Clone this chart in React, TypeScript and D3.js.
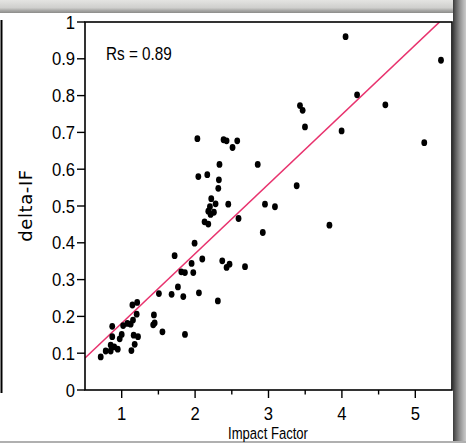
import React from "react";
import * as d3 from "d3";

// Data
const impactFactor = [
  0.714, 0.782, 0.85, 0.85, 0.898, 0.946, 0.871, 0.871, 0.973, 1.0,
  1.02, 1.078, 1.122, 1.154, 1.146, 1.211, 1.204, 1.163, 1.222, 1.177,
  1.132, 1.439, 1.429, 1.449, 1.555, 1.862, 1.507, 1.68, 1.766, 1.839,
  2.052, 2.31, 1.721, 1.993, 2.098, 1.952, 1.812, 1.861, 1.975, 2.37,
  2.429, 2.469, 2.68, 2.922, 2.129, 2.18, 2.592, 2.22, 2.279, 2.452,
  2.202, 2.18, 2.211, 2.256, 2.952, 3.088, 3.384, 2.044, 2.166, 2.324,
  2.316, 2.332, 2.853, 2.031, 2.388, 2.429, 2.574, 2.51, 3.83, 3.429,
  3.465, 3.497, 3.996, 4.05, 4.207, 4.592, 5.122, 5.35,
];
const deltaIF = [
  0.09, 0.106, 0.106, 0.122, 0.117, 0.111, 0.173, 0.145, 0.139, 0.151,
  0.175, 0.181, 0.179, 0.19, 0.231, 0.238, 0.206, 0.149, 0.145, 0.124,
  0.107, 0.204, 0.177, 0.182, 0.158, 0.151, 0.262, 0.26, 0.28, 0.254,
  0.264, 0.242, 0.365, 0.399, 0.356, 0.344, 0.321, 0.319, 0.319, 0.351,
  0.333, 0.342, 0.335, 0.428, 0.457, 0.451, 0.466, 0.52, 0.506, 0.505,
  0.498, 0.486, 0.477, 0.483, 0.505, 0.498, 0.555, 0.58, 0.585, 0.571,
  0.548, 0.613, 0.613, 0.683, 0.68, 0.677, 0.677, 0.659, 0.448, 0.773,
  0.76, 0.715, 0.704, 0.96, 0.802, 0.775, 0.672, 0.896,
];
const fitSlope = 0.189;
const fitIntercept = -0.0075;
const rsLabel = "Rs = 0.89";
const xTicks = [1, 2, 3, 4, 5];
const xMinorTicks = [1.5, 2.5, 3.5, 4.5];
const yTicks = [0, 0.1, 0.2, 0.3, 0.4, 0.5, 0.6, 0.7, 0.8, 0.9, 1];
const xTitle = "Impact Factor";
const yTitle = "delta-IF";

const W = 466;
const H = 443;
const L = 85;
const R = 452;
const T = 22;
const B = 390;

const sans = "'Liberation Sans', Arial, sans-serif";

function NarrowText(props: {
  x: number;
  y: number;
  size: number;
  sx: number;
  anchor?: string;
  dy?: string;
  children: React.ReactNode;
}) {
  return (
    <g transform={`translate(${props.x},${props.y}) scale(${props.sx},1)`}>
      <text
        x={0}
        y={0}
        dy={props.dy}
        textAnchor={props.anchor || "start"}
        fontFamily={sans}
        fontSize={props.size}
        fill="#000"
      >
        {props.children}
      </text>
    </g>
  );
}

export default function App() {
  const x = d3.scaleLinear().domain([0.5, 5.5]).range([L, R]);
  const y = d3.scaleLinear().domain([0, 1]).range([B, T]);
  const x0 = 0.5;
  const x1 = (1 - fitIntercept) / fitSlope;
  const fitLine =
    d3
      .line<number>()
      .x((d) => x(d))
      .y((d) => y(fitIntercept + fitSlope * d))([x0, x1]) || "";
  const yFmt = (v: number) => (v === 0 ? "0" : v === 1 ? "1" : d3.format(".1f")(v));

  return (
    <svg width={W} height={H} style={{ position: "absolute", left: 0, top: 0, background: "#fff" }}>
      <defs>
        <linearGradient id="topband" x1="0" y1="0" x2="0" y2="1">
          <stop offset="0" stopColor="#e4e4e2" />
          <stop offset="0.6" stopColor="#cfcfcd" />
          <stop offset="0.8" stopColor="#a9a9a7" />
          <stop offset="1" stopColor="#8c8c8a" />
        </linearGradient>
        <linearGradient id="rightbar" x1="0" y1="0" x2="1" y2="0">
          <stop offset="0" stopColor="#3a3a3a" />
          <stop offset="0.2" stopColor="#5e5e5e" />
          <stop offset="0.5" stopColor="#8e8e8e" />
          <stop offset="0.8" stopColor="#b4b4b4" />
          <stop offset="1" stopColor="#cacaca" />
        </linearGradient>
        <clipPath id="plotclip">
          <rect x={L} y={T} width={R - L} height={B - T} />
        </clipPath>
      </defs>
      <rect x={0} y={0} width={W} height={H} fill="#fff" />
      <rect x={0} y={0} width={W} height={13} fill="url(#topband)" />
      <rect x={453} y={0} width={13} height={H} fill="url(#rightbar)" />
      <rect x={0} y={441} width={W} height={2} fill="#b0b0b0" />
      <line x1={1.5} x2={1.5} y1={20} y2={393} stroke="#000" strokeWidth={2} />

      {/* fit line */}
      <path d={fitLine} stroke="#e8336e" strokeWidth={1.6} fill="none" clipPath="url(#plotclip)" />

      {/* points */}
      {impactFactor.map((v, i) => (
        <ellipse key={i} cx={x(v)} cy={y(deltaIF[i])} rx={2.9} ry={3.4} fill="#000" />
      ))}

      {/* frame */}
      <rect x={L} y={T} width={R - L} height={B - T} fill="none" stroke="#000" strokeWidth={1.6} />

      {/* y ticks */}
      {yTicks.map((t) => (
        <g key={t}>
          <line x1={L - 8} x2={L} y1={y(t)} y2={y(t)} stroke="#000" strokeWidth={1.4} />
          <NarrowText x={L - 10} y={y(t)} dy="0.36em" anchor="end" size={18.5} sx={0.9}>
            {yFmt(t)}
          </NarrowText>
        </g>
      ))}

      {/* x ticks */}
      {xTicks.map((t) => (
        <g key={t}>
          <line x1={x(t)} x2={x(t)} y1={B} y2={B + 8} stroke="#000" strokeWidth={1.4} />
          <NarrowText x={x(t)} y={420} anchor="middle" size={18.5} sx={0.9}>
            {t}
          </NarrowText>
        </g>
      ))}
      {xMinorTicks.map((t) => (
        <line key={t} x1={x(t)} x2={x(t)} y1={B} y2={B + 4.5} stroke="#000" strokeWidth={1.4} />
      ))}

      <NarrowText x={106} y={60} size={18} sx={0.85}>
        {rsLabel}
      </NarrowText>

      <NarrowText x={268} y={439} anchor="middle" size={17} sx={0.77}>
        {xTitle}
      </NarrowText>
      <text
        transform="translate(32,205.5) rotate(-90)"
        textAnchor="middle"
        fontFamily="'DejaVu Sans', Verdana, sans-serif"
        fontSize={18}
        letterSpacing={0.6}
        fill="#000"
      >
        {yTitle}
      </text>
    </svg>
  );
}
